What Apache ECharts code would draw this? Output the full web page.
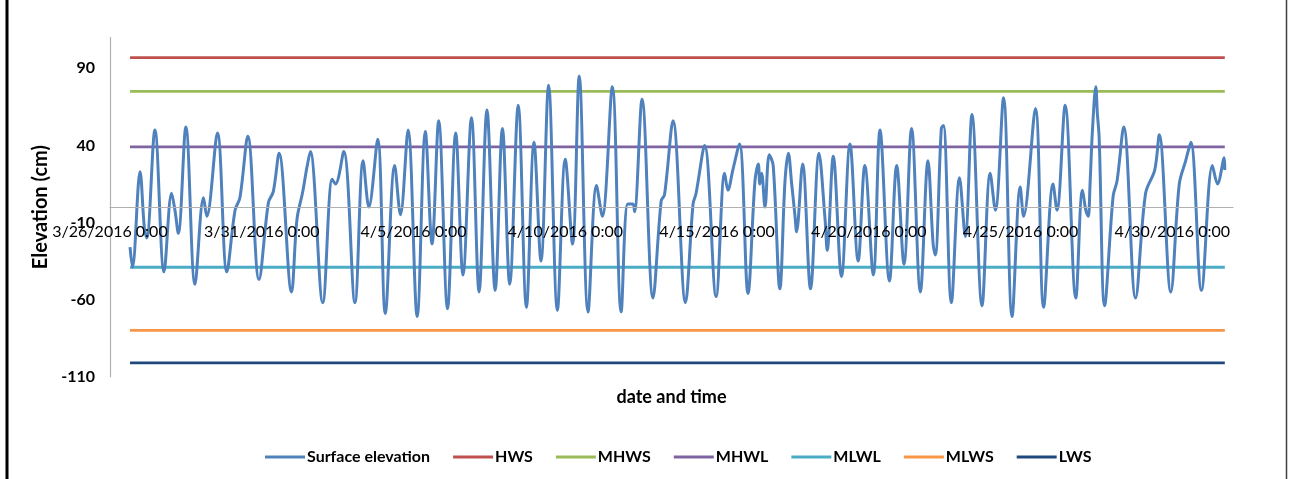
<!DOCTYPE html>
<html><head><meta charset="utf-8">
<script src="https://cdn.jsdelivr.net/npm/echarts@6/dist/echarts.min.js"></script>
<style>html,body{margin:0;padding:0;background:#fff}#c{width:1296px;height:479px}</style>
</head><body><div id="c"></div>
<script>
// Surface elevation turning points: day offset from 3/26/2016 0:00, elevation (cm)
const surfDay = [0.66,0.74,0.99,1.13,1.21,1.48,1.78,2.03,2.14,2.25,2.50,2.80,3.08,3.19,3.54,3.85,4.12,4.28,4.54,4.91,5.22,5.38,5.57,5.98,6.16,6.35,6.49,6.60,7.01,7.32,7.43,7.70,8.07,8.34,8.53,8.82,9.07,9.38,9.57,9.82,10.12,10.39,10.61,10.83,11.12,11.39,11.63,11.91,12.16,12.42,12.69,12.93,13.17,13.45,13.72,13.97,14.20,14.45,14.74,15.00,15.24,15.46,15.75,16.03,16.22,16.55,16.84,17.06,17.23,17.28,17.53,17.89,18.16,18.27,18.55,18.96,19.21,19.31,19.59,19.97,20.25,20.36,20.52,20.74,21.02,21.25,21.36,21.41,21.47,21.58,21.72,21.85,22.07,22.24,22.35,22.46,22.57,22.62,22.82,23.08,23.36,23.56,23.63,23.83,24.10,24.38,24.65,24.87,25.15,25.37,25.68,25.92,26.16,26.41,26.70,26.95,27.12,27.19,27.39,27.46,27.72,27.99,28.18,28.40,28.73,29.00,29.17,29.44,29.72,29.99,30.10,30.49,30.76,31.07,31.20,31.47,31.82,32.04,32.15,32.23,32.29,32.37,32.48,32.53,32.59,32.77,33.05,33.18,33.40,33.79,34.12,34.42,34.57,34.95,35.23,35.44,35.61,35.96,36.32,36.49,36.71,36.73];
const surfVal = [-26,-39,23,-13,-20,50,-42,9,-2,-17,52,-50,6,-6,48,-42,-2,6,46,-47,3,10,35,-55,-8,10,26,36,-62,18,15,36,-62,30,0,44,-69,27,-5,50,-71,49,-24,56,-66,48,-44,58,-55,63,-54,51,-50,66,-65,42,-35,79,-67,31,-24,85,-68,14,-6,78,-68,2,2,-3,70,-59,4,8,56,-62,2,9,40,-58,22,11,24,41,-56,17,28,15,22,0,34,27,-53,17,35,15,-6,-16,28,-53,35,-8,-28,33,-45,41,-35,27,-44,50,-48,27,-37,51,-55,30,-24,-31,51,53,-62,19,-19,60,-64,22,-2,71,-71,13,-6,64,-65,15,-2,66,-59,11,-2,-6,15,50,78,61,45,-64,7,17,52,-59,9,24,47,-55,15,30,42,-54,27,15,32,24];
const surfName = 'Surface elevation';
const levelNames = ['HWS','MHWS','MHWL','MLWL','MLWS','LWS'];
const levelValues = [97, 75, 39, -39, -80, -101];
const xTickDays = [0, 5, 10, 15, 20, 25, 30, 35];
const yTicks = [-110, -60, -10, 40, 90];
const xRange = [0, 37];
const yRange = [-110, 110];
const startYMD = [2016, 2, 26];
const xTitle = 'date and time';
const yTitle = 'Elevation (cm)';

const colors = ['#4F81BD','#C0504D','#9BBB59','#8064A2','#4BACC6','#F79646','#1F497D'];
const FONT = 'Lato, "Open Sans", sans-serif';

function dayLabel(d) {
  const dt = new Date(Date.UTC(startYMD[0], startYMD[1], startYMD[2] + Math.round(d)));
  return (dt.getUTCMonth() + 1) + '/' + dt.getUTCDate() + '/' + dt.getUTCFullYear() + ' 0:00';
}

// grid geometry
const gridTop = 37.5, gridBottom = 102.3, chartH = 479;
const plotH = chartH - gridTop - gridBottom;
// move the category axis (labels + name) up to the zero line
const zeroOffset = -plotH * (0 - yRange[0]) / (yRange[1] - yRange[0]);

const dStart = surfDay[0], dEnd = surfDay[surfDay.length - 1];
const series = [{
  name: surfName, type: 'line', showSymbol: false, symbol: 'none', smooth: 0.35,
  data: surfDay.map((d, i) => [d, surfVal[i]]),
  lineStyle: { color: colors[0], width: 3 }, itemStyle: { color: colors[0] }, z: 3
}];
levelNames.forEach((n, i) => {
  series.push({
    name: n, type: 'line', showSymbol: false, symbol: 'none',
    data: [[dStart, levelValues[i]], [dEnd, levelValues[i]]],
    lineStyle: { color: colors[i + 1], width: 2.8 }, itemStyle: { color: colors[i + 1] }, z: 2
  });
});

const chart = echarts.init(document.getElementById('c'), null, { renderer: 'canvas' });
chart.setOption({
  animation: false,
  backgroundColor: '#fff',
  grid: { left: 110, right: 63, top: gridTop, bottom: gridBottom, containLabel: false, outerBoundsMode: 'none' },
  xAxis: {
    type: 'value', min: xRange[0], max: xRange[1], offset: zeroOffset, z: 10,
    name: xTitle, nameLocation: 'middle', nameGap: 181,
    nameTextStyle: { fontFamily: FONT, fontSize: 18, fontWeight: 'bold', color: '#000' },
    axisLine: { show: true, onZero: false, lineStyle: { color: '#B0B0B0', width: 1.2 } },
    axisTick: { show: false },
    splitLine: { show: false },
    axisLabel: { customValues: xTickDays, formatter: v => dayLabel(v), margin: 17,
      fontFamily: FONT, fontSize: 16, color: '#000' }
  },
  yAxis: {
    type: 'value', min: yRange[0], max: yRange[1],
    name: yTitle, nameLocation: 'middle', nameGap: 50, nameRotate: 90,
    nameTextStyle: { fontFamily: FONT, fontSize: 20, fontWeight: 'bold', color: '#000' },
    axisLine: { show: true, lineStyle: { color: '#B0B0B0', width: 1.2 } },
    axisTick: { show: false },
    splitLine: { show: false },
    axisLabel: { customValues: yTicks, margin: 15, fontFamily: FONT, fontSize: 16, fontWeight: 'bold', color: '#000' }
  },
  legend: {
    left: 260, top: 444, icon: 'rect', itemWidth: 40, itemHeight: 3, itemGap: 23,
    textStyle: { fontFamily: FONT, fontSize: 16, fontWeight: 'bold', color: '#000', padding: [0, 0, 0, -3] },
    data: [surfName].concat(levelNames)
  },
  graphic: [
    { type: 'line', shape: { x1: 7, y1: 0, x2: 7, y2: 479 }, style: { stroke: '#000', lineWidth: 3 } },
    { type: 'line', shape: { x1: 1286.5, y1: 0, x2: 1286.5, y2: 479 }, style: { stroke: '#404040', lineWidth: 1.5 } }
  ],
  series: series
});
</script>
</body></html>
